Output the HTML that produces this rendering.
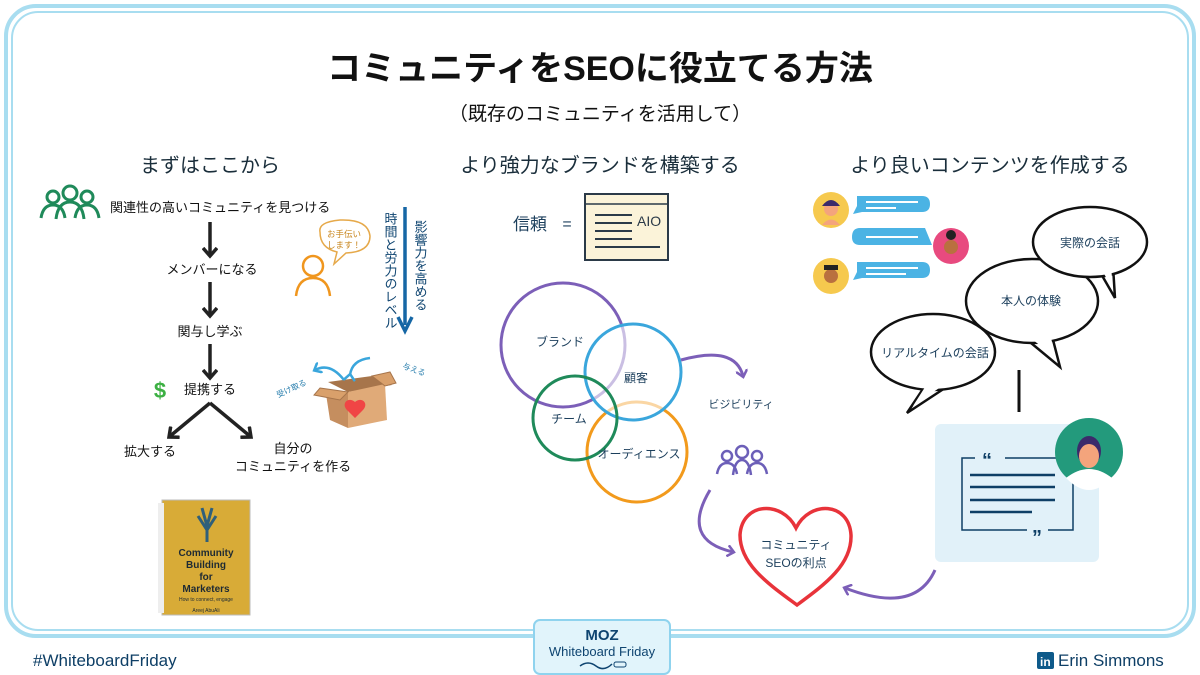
<!DOCTYPE html>
<html><head><meta charset="utf-8"><style>
body{margin:0;width:1200px;height:675px;background:#fff;overflow:hidden;font-family:"Liberation Sans","Noto Sans CJK JP",sans-serif;}
svg{position:absolute;left:0;top:0}
text{font-family:"Liberation Sans","Noto Sans CJK JP",sans-serif;}
</style></head><body>
<svg width="1200" height="675" viewBox="0 0 1200 675">
<defs>
<marker id="ak" markerWidth="16" markerHeight="16" refX="9" refY="8" orient="auto" markerUnits="userSpaceOnUse"><path d="M1,1 L9,8 L1,15" fill="none" stroke="#222" stroke-width="3.5"/></marker>
<marker id="ap" markerWidth="12" markerHeight="12" refX="6" refY="6" orient="auto" markerUnits="userSpaceOnUse"><path d="M0,0 L7,6 L0,12" fill="none" stroke="#7c5fb8" stroke-width="2.5"/></marker>
<marker id="ab" markerWidth="12" markerHeight="12" refX="6" refY="6" orient="auto" markerUnits="userSpaceOnUse"><path d="M0,0 L7,6 L0,12" fill="none" stroke="#3aa6dc" stroke-width="2.5"/></marker>
</defs>
<rect x="6" y="6" width="1188" height="630" rx="30" fill="none" stroke="#a8ddf0" stroke-width="4"/>
<rect x="12" y="12" width="1176" height="618" rx="26" fill="none" stroke="#a8ddf0" stroke-width="2"/>
<text x="600" y="80" font-size="34" font-weight="bold" text-anchor="middle" fill="#111">コミュニティをSEOに役立てる方法</text>
<text x="600" y="120" font-size="19" text-anchor="middle" fill="#111">（既存のコミュニティを活用して）</text>
<text x="210" y="172" font-size="20" text-anchor="middle" fill="#1a2e3b">まずはここから</text>
<text x="600" y="172" font-size="20" text-anchor="middle" fill="#1a2e3b">より強力なブランドを構築する</text>
<text x="990" y="172" font-size="20" text-anchor="middle" fill="#1a2e3b">より良いコンテンツを作成する</text>
<g fill="none" stroke="#1f8a5a" stroke-width="3">
<circle cx="53" cy="197" r="6"/><circle cx="70" cy="193" r="7"/><circle cx="87" cy="197" r="6"/>
<path d="M41,218 Q43,205 53,205 Q63,205 65,218"/><path d="M56,219 Q58,202 70,202 Q82,202 84,219"/><path d="M75,218 Q77,205 87,205 Q97,205 99,218"/>
</g>
<text x="110" y="212" font-size="13" fill="#111">関連性の高いコミュニティを見つける</text>
<g stroke="#222" stroke-width="3.5" fill="none" marker-end="url(#ak)">
<line x1="210" y1="222" x2="210" y2="256"/>
<line x1="210" y1="282" x2="210" y2="316"/>
<line x1="210" y1="344" x2="210" y2="378"/>
<path d="M210,403 L169,437" /><path d="M210,403 L251,437"/>
</g>
<text x="212" y="274" font-size="13" text-anchor="middle" fill="#111">メンバーになる</text>
<text x="210" y="336" font-size="13" text-anchor="middle" fill="#111">関与し学ぶ</text>
<text x="160" y="398" font-size="22" font-weight="bold" text-anchor="middle" fill="#3cb043">$</text>
<text x="210" y="394" font-size="13" text-anchor="middle" fill="#111">提携する</text>
<text x="150" y="456" font-size="13" text-anchor="middle" fill="#111">拡大する</text>
<text x="293" y="453" font-size="13" text-anchor="middle" fill="#111">自分の</text>
<text x="293" y="471" font-size="13" text-anchor="middle" fill="#111">コミュニティを作る</text>
<g fill="none" stroke="#f0961e" stroke-width="2.5"><circle cx="313" cy="266" r="10"/><path d="M296,296 Q298,278 313,278 Q328,278 330,296"/></g>
<path d="M320,232 Q318,222 340,220 Q368,219 370,236 Q370,252 346,253 L334,264 L337,252 Q320,248 320,232Z" fill="#fff" stroke="#e6a94a" stroke-width="1.5"/>
<text x="344" y="237" font-size="8.5" text-anchor="middle" fill="#c8861e">お手伝い</text>
<text x="344" y="248" font-size="8.5" text-anchor="middle" fill="#c8861e">します！</text>
<text x="390" y="212" font-size="13" fill="#0e4470" style="writing-mode:tb">時間と労力のレベル</text>
<text x="420" y="220" font-size="13" fill="#0e4470" style="writing-mode:tb">影響力を高める</text>
<line x1="405" y1="207" x2="405" y2="325" stroke="#1667a5" stroke-width="3.5"/>
<path d="M398,317 L405,331 L412,317" fill="none" stroke="#1667a5" stroke-width="3.5"/>
<path d="M328,382 L372,376 L392,385 L348,392Z" fill="#a7754b"/>
<path d="M326,394 L348,392 L348,428 L330,420Z" fill="#c58e5f"/>
<path d="M348,392 L385,384 L387,420 L348,428Z" fill="#e0aa78"/>
<path d="M320,388 L348,392 L340,400 L314,395Z" fill="#d9a06b" stroke="#a7754b"/>
<path d="M372,376 L390,372 L396,383 L385,386Z" fill="#d9a06b" stroke="#a7754b"/>
<path d="M355,402 C348,396 340,404 348,411 L355,418 L362,411 C370,404 362,396 355,402Z" fill="#f04545"/>
<path d="M350,375 Q352,360 370,358" fill="none" stroke="#3aa6dc" stroke-width="2.5" marker-start="url(#ab)"/>
<path d="M344,380 Q330,362 315,370" fill="none" stroke="#3aa6dc" stroke-width="2.5" marker-end="url(#ab)"/>
<text x="402" y="368" font-size="8" fill="#2a7fae" transform="rotate(20 402 368)">与える</text>
<text x="276" y="392" font-size="8" fill="#2a7fae" transform="rotate(-25 290 390)">受け取る</text>
<rect x="162" y="500" width="88" height="115" fill="#d8ab37" stroke="#bbb"/>
<rect x="158" y="503" width="6" height="110" fill="#eee"/>
<g stroke="#2f5f7a" stroke-width="3" fill="none"><path d="M207,542 L207,520 M207,530 L198,516 M207,530 L216,516 M207,526 L202,508 M207,526 L212,508"/></g>
<text x="206" y="556" font-size="10" font-weight="bold" text-anchor="middle" fill="#1e2a33">Community</text>
<text x="206" y="568" font-size="10" font-weight="bold" text-anchor="middle" fill="#1e2a33">Building</text>
<text x="206" y="580" font-size="10" font-weight="bold" text-anchor="middle" fill="#1e2a33">for</text>
<text x="206" y="592" font-size="10" font-weight="bold" text-anchor="middle" fill="#1e2a33">Marketers</text>
<text x="206" y="601" font-size="5" text-anchor="middle" fill="#1e2a33">How to connect, engage</text>
<text x="206" y="612" font-size="5" text-anchor="middle" fill="#1e2a33">Areej AbuAli</text>
<text x="530" y="230" font-size="17" text-anchor="middle" fill="#1c3f5c">信頼</text>
<text x="567" y="229" font-size="16" text-anchor="middle" fill="#1c3f5c">=</text>
<rect x="585" y="194" width="83" height="66" fill="#fbf3d9" stroke="#2b3a48" stroke-width="2"/>
<line x1="585" y1="204" x2="668" y2="204" stroke="#2b3a48" stroke-width="1.5"/>
<g stroke="#2b3a48" stroke-width="2"><line x1="595" y1="215" x2="632" y2="215"/><line x1="595" y1="223" x2="632" y2="223"/><line x1="595" y1="231" x2="632" y2="231"/><line x1="595" y1="239" x2="632" y2="239"/><line x1="595" y1="247" x2="660" y2="247"/></g>
<text x="637" y="226" font-size="14" fill="#2b3a48">AIO</text>
<circle cx="563" cy="345" r="62" fill="none" stroke="#7c5fb8" stroke-width="3"/>
<circle cx="637" cy="452" r="50" fill="none" stroke="#f29a1c" stroke-width="3"/>
<circle cx="633" cy="372" r="48" fill="#fff" fill-opacity="0.6" stroke="#3aa6dc" stroke-width="3"/>
<circle cx="575" cy="418" r="42" fill="none" stroke="#1f8a5a" stroke-width="3"/>
<text x="560" y="346" font-size="12" text-anchor="middle" fill="#1c3f5c">ブランド</text>
<text x="636" y="382" font-size="12" text-anchor="middle" fill="#1c3f5c">顧客</text>
<text x="569" y="423" font-size="12" text-anchor="middle" fill="#1c3f5c">チーム</text>
<text x="639" y="458" font-size="12" text-anchor="middle" fill="#1c3f5c">オーディエンス</text>
<path d="M681,360 Q735,345 743,376" fill="none" stroke="#7c5fb8" stroke-width="3" marker-end="url(#ap)"/>
<text x="741" y="408" font-size="11" text-anchor="middle" fill="#1c3f5c">ビジビリティ</text>
<g fill="none" stroke="#6c5fb8" stroke-width="2.5">
<circle cx="727" cy="456" r="5"/><circle cx="742" cy="452" r="6"/><circle cx="757" cy="456" r="5"/>
<path d="M717,474 Q719,463 727,463 Q735,463 737,474"/><path d="M733,475 Q735,460 742,460 Q749,460 751,475"/><path d="M747,474 Q749,463 757,463 Q765,463 767,474"/></g>
<path d="M710,490 Q680,540 733,552" fill="none" stroke="#7c5fb8" stroke-width="3" marker-end="url(#ap)"/>
<path d="M935,570 Q915,615 845,588" fill="none" stroke="#7c5fb8" stroke-width="3" marker-end="url(#ap)"/>
<path d="M796,528 C782,500 742,502 740,535 C740,565 770,585 797,605 C824,585 852,565 851,535 C849,502 810,500 796,528Z" fill="none" stroke="#e8333a" stroke-width="3.5"/>
<text x="796" y="549" font-size="12" text-anchor="middle" fill="#1c3f5c">コミュニティ</text>
<text x="796" y="567" font-size="12" text-anchor="middle" fill="#1c3f5c">SEOの利点</text>
<g>
<circle cx="831" cy="210" r="18" fill="#f6c94e"/><circle cx="831" cy="209" r="7" fill="#f4a47c"/><path d="M822,206 Q831,194 840,206" fill="#3b2a6b"/><path d="M822,225 Q831,214 840,225" fill="#f4a47c"/>
<path d="M857,196 L922,196 Q930,196 930,204 Q930,212 922,212 L862,212 L853,214 L857,206Z" fill="#4bb3e4"/>
<line x1="866" y1="202" x2="918" y2="202" stroke="#fff" stroke-width="2"/><line x1="866" y1="208" x2="896" y2="208" stroke="#fff" stroke-width="2"/>
<path d="M860,228 L925,228 L932,245 L860,245 Q852,245 852,237 Q852,228 860,228Z" fill="#4bb3e4"/>
<line x1="866" y1="237" x2="918" y2="237" stroke="#fff" stroke-width="2"/>
<circle cx="951" cy="246" r="18" fill="#e84a7f"/><circle cx="951" cy="247" r="7" fill="#b9703f"/><circle cx="951" cy="235" r="5" fill="#222"/>
<circle cx="831" cy="276" r="18" fill="#f6c94e"/><circle cx="831" cy="276" r="7" fill="#b9703f"/><rect x="824" y="265" width="14" height="5" fill="#222"/>
<path d="M857,262 L922,262 Q930,262 930,270 Q930,278 922,278 L862,278 L853,280 L857,272Z" fill="#4bb3e4"/>
<line x1="866" y1="268" x2="918" y2="268" stroke="#fff" stroke-width="2"/><line x1="866" y1="274" x2="906" y2="274" stroke="#fff" stroke-width="2"/>
</g>
<!-- speech bubbles: back to front -->
<g fill="#fff" stroke="#111" stroke-width="2.5">
<path d="M925,386 L907,413 L948,386 Z"/>
<ellipse cx="933" cy="352" rx="62" ry="38"/>
<path d="M927,384 L945,384 L913,406Z" stroke="none"/>
<path d="M1025,338 L1060,367 L1052,336 Z"/>
<ellipse cx="1032" cy="301" rx="66" ry="42"/>
<path d="M1028,336 L1050,334 L1056,358Z" stroke="none"/>
<path d="M1100,272 L1115,298 L1113,266 Z"/>
<ellipse cx="1090" cy="242" rx="57" ry="35"/>
<path d="M1102,270 L1111,266 L1113,290Z" stroke="none"/>
</g>
<text x="1090" y="247" font-size="12" text-anchor="middle" fill="#1c3f5c">実際の会話</text>
<text x="1031" y="305" font-size="12" text-anchor="middle" fill="#1c3f5c">本人の体験</text>
<text x="935" y="357" font-size="12" text-anchor="middle" fill="#1c3f5c">リアルタイムの会話</text>
<line x1="1019" y1="370" x2="1019" y2="412" stroke="#111" stroke-width="3"/>
<rect x="935" y="424" width="164" height="138" rx="6" fill="#e1f1f9"/>
<path d="M975,458 L962,458 L962,530 L1027,530 M1048,530 L1073,530 L1073,458 M1005,458 L1060,458" fill="none" stroke="#0e3f66" stroke-width="1.5"/>
<text x="982" y="467" font-size="20" font-weight="bold" fill="#0e3f66">“</text>
<text x="1032" y="544" font-size="20" font-weight="bold" fill="#0e3f66">”</text>
<g stroke="#0e3f66" stroke-width="2.5"><line x1="970" y1="475" x2="1055" y2="475"/><line x1="970" y1="487" x2="1055" y2="487"/><line x1="970" y1="500" x2="1055" y2="500"/><line x1="970" y1="512" x2="1032" y2="512"/></g>
<circle cx="1089" cy="452" r="34" fill="#239a7c"/>
<path d="M1066,478 Q1089,460 1112,478 Q1100,490 1089,490 Q1078,490 1066,478Z" fill="#fff"/>
<ellipse cx="1089" cy="451" rx="12" ry="15" fill="#3b2a6b"/><ellipse cx="1089" cy="456" rx="10" ry="12" fill="#f4a47c"/>
<text x="33" y="666" font-size="17" fill="#0e3f66">#WhiteboardFriday</text>
<rect x="534" y="620" width="136" height="54" rx="6" fill="#e1f4fb" stroke="#8fd3ee" stroke-width="2"/>
<text x="602" y="640" font-size="15" font-weight="bold" text-anchor="middle" fill="#0e4470">MOZ</text>
<text x="602" y="656" font-size="13" text-anchor="middle" fill="#0e4470" font-family="Liberation Serif">Whiteboard Friday</text>
<path d="M580,666 Q588,660 596,666 Q604,672 612,664" fill="none" stroke="#0e4470" stroke-width="1.5"/>
<rect x="614" y="662" width="12" height="5" rx="2" fill="none" stroke="#0e4470"/>
<rect x="1037" y="652" width="17" height="17" rx="2" fill="#0e5a8a"/>
<text x="1040" y="666" font-size="12" font-weight="bold" fill="#fff">in</text>
<text x="1058" y="666" font-size="17" fill="#0e3f66">Erin Simmons</text>
</svg>
</body></html>
